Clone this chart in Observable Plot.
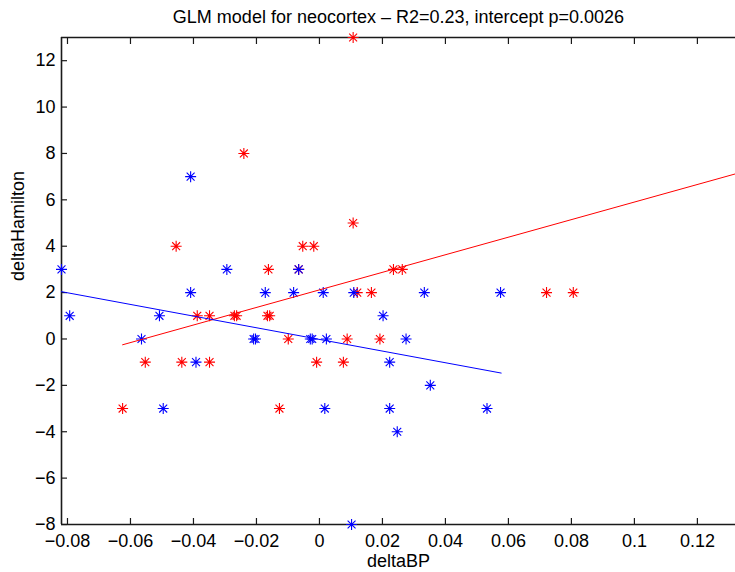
<!DOCTYPE html>
<html><head><meta charset="utf-8">
<script src="https://cdn.jsdelivr.net/npm/d3@7"></script>
<script src="https://cdn.jsdelivr.net/npm/@observablehq/plot@0.6"></script>
<style>html,body{margin:0;padding:0;background:#fff}</style>
</head><body><div id="chart"></div>
<script>
// ---- data ----
const redX = [-0.0625,-0.0553,-0.0455,-0.0437,-0.0388,-0.0349,-0.0349,-0.0270,-0.0263,-0.0240,-0.0162,-0.0165,-0.0158,-0.0127,-0.0099,-0.0066,-0.0053,-0.0018,-0.0009,0.0076,0.0088,0.0107,0.0107,0.0120,0.0165,0.0192,0.0235,0.0263,0.0721,0.0806];
const redY = [-3,-1,4,-1,1,1,-1,1,1,8,3,1,1,-3,0,3,4,4,-1,-1,0,5,13,2,2,0,3,3,2,2];
const blueX = [-0.0819,-0.0793,-0.0565,-0.0508,-0.0496,-0.0409,-0.0409,-0.0392,-0.0294,-0.0172,-0.0209,-0.0203,-0.0082,-0.0066,-0.0029,-0.0023,0.0012,0.0017,0.0022,0.0102,0.0109,0.0202,0.0223,0.0223,0.0247,0.0275,0.0333,0.0352,0.0532,0.0575];
const blueY = [3,1,0,1,-3,7,2,-1,3,2,0,0,2,3,0,0,2,-3,0,-8,2,1,-1,-3,-4,0,2,-2,-3,2];
const redFitX = [-0.0625, 0.1321];
const redFitY = [-0.25, 7.12];
const blueFitX = [-0.0819, 0.0577];
const blueFitY = [2.04, -1.47];
const xTicks = [-0.08,-0.06,-0.04,-0.02,0,0.02,0.04,0.06,0.08,0.1,0.12];
const xTickLabels = ["−0.08","−0.06","−0.04","−0.02","0","0.02","0.04","0.06","0.08","0.1","0.12"];
const yTicks = [-8,-6,-4,-2,0,2,4,6,8,10,12];
const yTickLabels = ["−8","−6","−4","−2","0","2","4","6","8","10","12"];
const xDomain = [-0.0819, 0.1321];
const yDomain = [-8, 13];
const titleText = "GLM model for neocortex – R2=0.23, intercept p=0.0026";
const xLabel = "deltaBP";
const yLabel = "deltaHamilton";

const red = redX.map((x, i) => ({x, y: redY[i]}));
const blue = blueX.map((x, i) => ({x, y: blueY[i]}));
const redFit = redFitX.map((x, i) => ({x, y: redFitY[i]}));
const blueFit = blueFitX.map((x, i) => ({x, y: blueFitY[i]}));

// MATLAB-style "*" marker: plus + diagonal cross
const star = {
  draw(ctx, size) {
    const r = Math.sqrt(size / Math.PI), d = r * 0.72;
    ctx.moveTo(-r, 0); ctx.lineTo(r, 0);
    ctx.moveTo(0, -r); ctx.lineTo(0, r);
    ctx.moveTo(-d, -d); ctx.lineTo(d, d);
    ctx.moveTo(-d, d); ctx.lineTo(d, -d);
  }
};

const axisColor = "#1a1a1a";
const chart = Plot.plot({
  width: 735, height: 572,
  marginLeft: 61, marginRight: 0, marginTop: 37, marginBottom: 48,
  style: {fontFamily: "'Liberation Sans', Arial, sans-serif", fontSize: "18px", background: "#fff", color: "#000"},
  x: {domain: xDomain},
  y: {domain: yDomain},
  marks: [
    Plot.axisX(xTicks, {anchor: "bottom", tickSize: -6, tickPadding: 16, stroke: axisColor, strokeWidth: 1.2,
      tickFormat: d => xTickLabels[xTicks.indexOf(d)], label: null}),
    Plot.axisX(xTicks, {anchor: "top", tickSize: -6, stroke: axisColor, strokeWidth: 1.2, tickFormat: () => "", label: null}),
    Plot.axisY(yTicks, {anchor: "left", tickSize: -6, tickPadding: 12, stroke: axisColor, strokeWidth: 1.2,
      tickFormat: d => yTickLabels[yTicks.indexOf(d)], label: null}),
    Plot.ruleX([xDomain[0]], {stroke: axisColor, strokeWidth: 1.6}),
    Plot.ruleY(yDomain, {stroke: axisColor, strokeWidth: 1.6}),
    Plot.dot(red, {x: "x", y: "y", symbol: star, r: 5.5, stroke: "#ff0000", fill: "none", strokeWidth: 1.1}),
    Plot.dot(blue, {x: "x", y: "y", symbol: star, r: 5.5, stroke: "#0000ff", fill: "none", strokeWidth: 1.1}),
    Plot.line(redFit, {x: "x", y: "y", stroke: "#ff0000", strokeWidth: 1}),
    Plot.line(blueFit, {x: "x", y: "y", stroke: "#0000ff", strokeWidth: 1}),
    Plot.text([titleText], {frameAnchor: "top", dy: -20, lineAnchor: "middle", fill: "#000"}),
    Plot.text([xLabel], {frameAnchor: "bottom", dy: 37, lineAnchor: "middle", fill: "#000"}),
    Plot.text([yLabel], {frameAnchor: "left", dx: -43, rotate: -90, lineAnchor: "middle", fill: "#000"})
  ]
});
document.getElementById("chart").appendChild(chart);
</script>
</body></html>
